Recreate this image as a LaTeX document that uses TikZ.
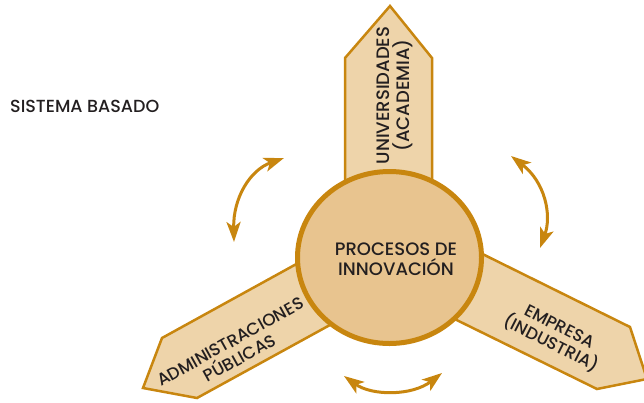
\documentclass[tikz,border=0pt]{standalone}
\usepackage{fontspec}
\setmainfont{Poppins}[UprightFont={* Medium}]
\usetikzlibrary{arrows.meta,shapes.geometric}
\definecolor{gold}{HTML}{C8860F}
\definecolor{armfill}{HTML}{EED4AA}
\definecolor{hubfill}{HTML}{E8C48F}
\definecolor{ink}{HTML}{231F20}
\tikzset{
  arm/.style={draw=gold, fill=armfill, line width=2.5pt, line join=miter},
  hub/.style={draw=gold, fill=hubfill, line width=5pt},
  curv/.style={draw=gold, line width=3pt, {Stealth[length=20pt,width=14pt,inset=5pt]}-{Stealth[length=20pt,width=14pt,inset=5pt]}},
  lbl/.style={text=ink, align=center, inner sep=0pt},
}
\begin{document}
\begin{tikzpicture}[x=1pt,y=-1pt]
\path[use as bounding box] (0,0) rectangle (644,402);
\clip (0,0) rectangle (644,402);
% arms
\draw[arm] (345,250) -- (345,58) -- (390,6) -- (432,58) -- (432,250) -- cycle;
\draw[arm] (440,233) -- (630,327) -- (647,379) -- (597,389) -- (420,302) -- cycle;
\draw[arm] (340,240) -- (162,338) -- (143,388) -- (197,398) -- (370,303) -- cycle;
% hub
\node[hub, ellipse, minimum width=184pt, minimum height=172pt, inner sep=0pt] (hub) at (389.5,257.5) {};
\node[lbl, font=\fontsize{18}{19.5}\selectfont] (hubt) at (396,259) {PROCESOS DE\\INNOVACIÓN};
% arm labels
\node[lbl, rotate=90, font=\fontsize{18}{20}\selectfont] (uni) at (395,95.5) {UNIVERSIDADES\\(ACADEMIA)};
\node[lbl, rotate=-27, font=\fontsize{17}{19}\selectfont] (emp) at (555,336) {EMPRESA\\(INDUSTRIA)};
\node[lbl, rotate=29, font=\fontsize{17}{19}\selectfont] (adm) at (235,350) {ADMINISTRACIONES\\PÚBLICAS};
\node[lbl, anchor=west, font=\fontsize{17.5}{19}\selectfont] (sis) at (10,106) {SISTEMA BASADO};
% cycle arrows
\coordinate (la1) at (234,242);
\coordinate (la2) at (284,158);
\coordinate (ra1) at (511,156);
\coordinate (ra2) at (540,248);
\coordinate (ba1) at (344,376);
\coordinate (ba2) at (442,373);
\draw[curv] (la1) .. controls (233,198) and (250,170) .. (la2);
\draw[curv] (ra1) .. controls (545,182) and (552,215) .. (ra2);
\draw[curv] (ba1) .. controls (372,396) and (412,396) .. (ba2);
\end{tikzpicture}
\end{document}
